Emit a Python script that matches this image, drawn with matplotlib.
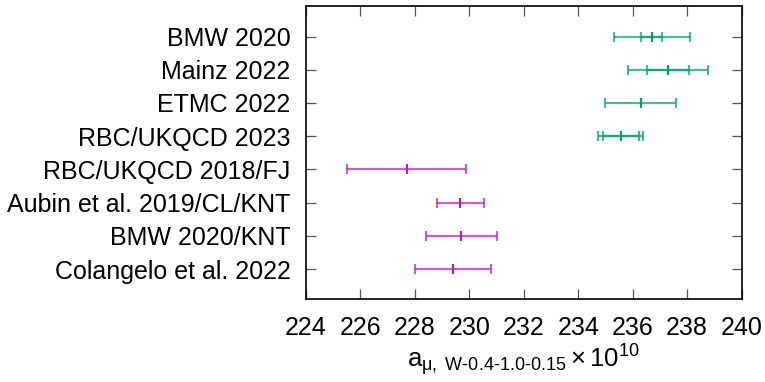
import matplotlib
matplotlib.use('Agg')
import matplotlib.pyplot as plt

plt.rcParams['font.family'] = ['Liberation Sans', 'DejaVu Sans']
plt.rcParams['mathtext.fontset'] = 'custom'
plt.rcParams['mathtext.rm'] = 'Liberation Sans'
plt.rcParams['mathtext.it'] = 'Liberation Sans'
plt.rcParams['mathtext.sf'] = 'Liberation Sans'

# lattice results (green): central, inner error, total error
lattice_names = ['BMW 2020', 'Mainz 2022', 'ETMC 2022', 'RBC/UKQCD 2023']
lattice_val = [236.7, 237.3, 236.3, 235.56]
lattice_inner = [0.39, 0.78, 0.0, 0.66]
lattice_total = [1.4, 1.46, 1.3, 0.82]

# data-driven results (magenta)
dd_names = ['RBC/UKQCD 2018/FJ', 'Aubin et al. 2019/CL/KNT', 'BMW 2020/KNT', 'Colangelo et al. 2022']
dd_val = [227.7, 229.67, 229.71, 229.4]
dd_err = [2.18, 0.87, 1.3, 1.4]

xticks = list(range(224, 241, 2))

green = '#009e73'
magenta = '#b020b8'

fig = plt.figure(figsize=(7.65, 3.82), dpi=100)
ax = fig.add_axes([0.3997, 0.2173, 0.5698, 0.7670])

names = lattice_names + dd_names
ypos = list(range(len(names), 0, -1))
y_lat = ypos[:len(lattice_names)]
y_dd = ypos[len(lattice_names):]

ax.errorbar(lattice_val, y_lat, xerr=lattice_total, fmt='none', ecolor=green,
            elinewidth=1.6, capsize=3.6, capthick=1.6, alpha=0.7)
for v, y, e in zip(lattice_val, y_lat, lattice_inner):
    if e > 0:
        ax.errorbar([v], [y], xerr=[e], fmt='none', ecolor=green,
                    elinewidth=1.6, capsize=3.6, capthick=1.6, alpha=0.7)
ax.plot(lattice_val, y_lat, '|', color=green, markersize=7.5, markeredgewidth=1.6)

ax.errorbar(dd_val, y_dd, xerr=dd_err, fmt='none', ecolor=magenta,
            elinewidth=1.6, capsize=3.6, capthick=1.6, alpha=0.7)
ax.plot(dd_val, y_dd, '|', color=magenta, markersize=7.5, markeredgewidth=1.6)

ax.set_xlim(224, 240)
ax.set_ylim(0.1, 8.92)
ax.set_xticks(xticks)
ax.set_yticks(ypos)
ax.set_yticklabels(names)
ax.tick_params(direction='in', top=True, right=True, length=7, width=0.9,
               labelsize=18, color='#555555')
ax.tick_params(axis='y', pad=11)
ax.tick_params(axis='x', pad=12)
for s in ax.spines.values():
    s.set_linewidth(1.2)

ax.set_xlabel(r'$\mathrm{a}_{\mu,\ \text{W-0.4-1.0-0.15}}\times 10^{10}$', fontsize=18.5, labelpad=2)

plt.savefig('out.png', dpi=100)
